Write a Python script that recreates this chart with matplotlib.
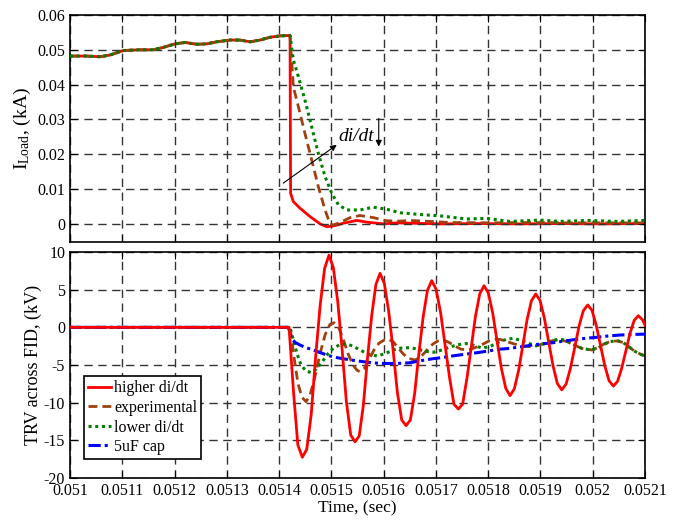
import numpy as np
import matplotlib
matplotlib.use("Agg")
import matplotlib.pyplot as plt

plt.rcParams['font.family'] = ['Liberation Serif', 'DejaVu Serif']
plt.rcParams['mathtext.fontset'] = 'custom'
plt.rcParams['mathtext.rm'] = 'Liberation Serif'
plt.rcParams['mathtext.it'] = 'Liberation Serif:italic'
plt.rcParams['axes.unicode_minus'] = False

# ---- top panel: load current (kA) ----
# common part before the interruption
t_pre = [0.0510000, 0.0510320, 0.0510574, 0.0510765, 0.0511020, 0.0511340, 0.0511594,
         0.0511785, 0.0512009, 0.0512200, 0.0512424, 0.0512615, 0.0512807, 0.0513061,
         0.0513252, 0.0513444, 0.0513635, 0.0513826, 0.0514018, 0.0514196]
i_pre = [0.0482, 0.0482, 0.0480, 0.0485, 0.0498, 0.0500, 0.0500,
         0.0507, 0.0517, 0.0521, 0.0516, 0.0517, 0.0523, 0.0528,
         0.0528, 0.0523, 0.0528, 0.0536, 0.0540, 0.0541]

t_i_high = [0.0514209, 0.0514220, 0.0514272, 0.0514400, 0.0514592, 0.0514783, 0.0514911,
            0.0515037, 0.0515229, 0.0515485, 0.0515676, 0.0515994, 0.0516250, 0.0516505,
            0.0517079, 0.0517844, 0.0518609, 0.0519375, 0.0520140, 0.0521000]
i_high = [0.0541, 0.0088, 0.0064, 0.0045, 0.0021, 0.0000, -0.0008,
          -0.0006, 0.0002, 0.0010, 0.0005, 0.0000, 0.0003, 0.0002,
          0.0000, 0.0001, 0.0000, 0.0001, 0.0000, 0.0001]

t_i_exp = [0.0514209, 0.0514272, 0.0514368, 0.0514494, 0.0514623, 0.0514750, 0.0514879,
           0.0514974, 0.0515037, 0.0515166, 0.0515358, 0.0515548, 0.0515803, 0.0516059,
           0.0516314, 0.0516505, 0.0516888, 0.0517270, 0.0518035, 0.0518801, 0.0519566,
           0.0520331, 0.0521000]
i_exp = [0.0541, 0.0394, 0.0337, 0.0260, 0.0184, 0.0107, 0.0040,
         0.0000, -0.0003, 0.0004, 0.0018, 0.0024, 0.0018, 0.0009,
         0.0008, 0.0010, 0.0007, 0.0004, 0.0003, 0.0004, 0.0003,
         0.0003, 0.0003]

t_i_low = [0.0514209, 0.0514272, 0.0514368, 0.0514494, 0.0514623, 0.0514749, 0.0514879,
           0.0515007, 0.0515133, 0.0515294, 0.0515548, 0.0515803, 0.0516059, 0.0516314,
           0.0516696, 0.0517079, 0.0517590, 0.0517973, 0.0518418, 0.0518992, 0.0519375,
           0.0519885, 0.0520460, 0.0521000]
i_low = [0.0541, 0.0471, 0.0423, 0.0356, 0.0279, 0.0203, 0.0136,
         0.0088, 0.0055, 0.0040, 0.0040, 0.0048, 0.0042, 0.0032,
         0.0027, 0.0023, 0.0014, 0.0016, 0.0007, 0.0011, 0.0007,
         0.0010, 0.0007, 0.0010]

# ---- bottom panel: TRV across FID (kV) ----
t_v_high = [0.0510000, 0.0514190, 0.0514276, 0.0514358, 0.0514444, 0.0514529, 0.0514615,
            0.0514700, 0.0514785, 0.0514870, 0.0514955, 0.0515037, 0.0515122, 0.0515204,
            0.0515286, 0.0515370, 0.0515453, 0.0515533, 0.0515611, 0.0515692, 0.0515772,
            0.0515851, 0.0515931, 0.0516013, 0.0516097, 0.0516180, 0.0516262, 0.0516346,
            0.0516428, 0.0516511, 0.0516593, 0.0516675, 0.0516756, 0.0516838, 0.0516920,
            0.0517004, 0.0517090, 0.0517175, 0.0517259, 0.0517345, 0.0517429, 0.0517511,
            0.0517594, 0.0517676, 0.0517756, 0.0517838, 0.0517921, 0.0518003, 0.0518087,
            0.0518169, 0.0518252, 0.0518336, 0.0518418, 0.0518500, 0.0518583, 0.0518665,
            0.0518745, 0.0518828, 0.0518910, 0.0518992, 0.0519074, 0.0519158, 0.0519241,
            0.0519323, 0.0519407, 0.0519490, 0.0519572, 0.0519656, 0.0519738, 0.0519820,
            0.0519905, 0.0519987, 0.0520067, 0.0520150, 0.0520232, 0.0520312, 0.0520395,
            0.0520475, 0.0520553, 0.0520634, 0.0520714, 0.0520793, 0.0520873, 0.0520953,
            0.0521000]
v_high = [0.0, 0.0, -8.6, -15.6, -17.25, -16.2, -11.5,
          -3.83, 2.89, 7.80, 9.6, 7.94, 3.4, -2.8,
          -9.8, -14.3, -15.2, -14.4, -10.4, -4.02, 1.58,
          5.67, 7.17, 5.82, 2.12, -2.94, -8.6, -12.3,
          -13.05, -12.3, -8.8, -3.43, 1.39, 4.91, 6.2,
          5.06, 1.94, -2.32, -6.58, -10.2, -10.84, -10.2,
          -6.75, -2.66, 1.44, 4.43, 5.53, 4.55, 1.88,
          -1.77, -5.42, -8.09, -9.07, -8.17, -5.70, -2.32,
          1.06, 3.53, 4.43, 3.58, 1.25, -1.94, -5.12,
          -7.45, -8.3, -7.55, -5.48, -2.67, 0.15, 2.21,
          2.97, 2.25, 0.28, -2.42, -5.11, -7.08, -7.8,
          -7.17, -5.46, -3.13, -0.79, 0.92, 1.55, 1.0,
          0.3]

t_v_exp = [0.0510000, 0.0514209, 0.0514286, 0.0514362, 0.0514439, 0.0514515, 0.0514592,
           0.0514687, 0.0514783, 0.0514879, 0.0514974, 0.0515051, 0.0515127, 0.0515223,
           0.0515319, 0.0515414, 0.0515491, 0.0515548, 0.0515625, 0.0515720, 0.0515816,
           0.0515912, 0.0516007, 0.0516090, 0.0516180, 0.0516275, 0.0516371, 0.0516467,
           0.0516601, 0.0516715, 0.0516830, 0.0516945, 0.0517041, 0.0517142, 0.0517251,
           0.0517366, 0.0517481, 0.0517620, 0.0517748, 0.0517882, 0.0518016, 0.0518131,
           0.0518227, 0.0518361, 0.0518495, 0.0518629, 0.0518801, 0.0518954, 0.0519107,
           0.0519241, 0.0519375, 0.0519509, 0.0519643, 0.0519796, 0.0519981, 0.0520102,
           0.0520217, 0.0520331, 0.0520460, 0.0520580, 0.0520695, 0.0520810, 0.0520925,
           0.0521000]
v_exp = [0.0, 0.0, -4.0, -7.5, -9.3, -9.87, -9.0,
         -6.5, -3.5, -1.0, 0.4, 0.61, 0.2, -1.5,
         -3.5, -5.0, -5.7, -5.89, -5.5, -4.3, -3.0,
         -2.1, -1.7, -1.59, -1.9, -2.7, -3.5, -4.1,
         -4.34, -3.9, -3.0, -2.2, -1.8, -1.68, -2.0,
         -2.5, -2.9, -3.0, -2.7, -2.3, -1.8, -1.62,
         -1.59, -1.9, -2.2, -2.45, -2.57, -2.4, -2.0,
         -1.75, -1.65, -1.9, -2.35, -2.8, -3.0, -2.7,
         -2.2, -1.9, -1.8, -2.0, -2.6, -3.2, -3.6,
         -3.8]

t_v_low = [0.0510000, 0.0514209, 0.0514266, 0.0514343, 0.0514419, 0.0514515, 0.0514610,
           0.0514706, 0.0514821, 0.0514936, 0.0515051, 0.0515166, 0.0515294, 0.0515414,
           0.0515548, 0.0515682, 0.0515873, 0.0516026, 0.0516180, 0.0516333, 0.0516505,
           0.0516658, 0.0516811, 0.0516964, 0.0517117, 0.0517270, 0.0517423, 0.0517576,
           0.0517729, 0.0517882, 0.0518035, 0.0518188, 0.0518342, 0.0518475, 0.0518609,
           0.0518762, 0.0518915, 0.0519069, 0.0519222, 0.0519375, 0.0519509, 0.0519643,
           0.0519796, 0.0519967, 0.0520102, 0.0520217, 0.0520331, 0.0520466, 0.0520580,
           0.0520695, 0.0520810, 0.0520925, 0.0521000]
v_low = [0.0, 0.0, -1.5, -3.5, -5.0, -5.8, -6.0,
         -5.6, -4.6, -3.5, -2.7, -2.3, -2.2, -2.5,
         -3.0, -3.5, -3.8, -3.5, -3.0, -2.75, -2.7,
         -2.9, -3.2, -3.3, -3.0, -2.6, -2.3, -2.15,
         -2.4, -2.75, -2.55, -2.0, -1.6, -1.46, -1.7,
         -2.1, -2.45, -2.2, -1.75, -1.55, -1.8, -2.3,
         -2.8, -3.0, -2.75, -2.25, -1.9, -1.75, -2.0,
         -2.6, -3.2, -3.6, -3.8]

t_v_cap = [0.0510000, 0.0514176, 0.0514242, 0.0514305, 0.0514400, 0.0514515, 0.0514655,
           0.0514802, 0.0514974, 0.0515127, 0.0515294, 0.0515453, 0.0515611, 0.0515778,
           0.0515931, 0.0516122, 0.0516314, 0.0516505, 0.0516696, 0.0516907, 0.0517142,
           0.0517366, 0.0517590, 0.0517806, 0.0518035, 0.0518227, 0.0518418, 0.0518609,
           0.0518801, 0.0519011, 0.0519247, 0.0519470, 0.0519694, 0.0519872, 0.0520077,
           0.0520293, 0.0520523, 0.0520752, 0.0521000]
v_cap = [0.0, 0.0, -1.46, -2.0, -2.35, -2.7, -3.0,
         -3.4, -3.8, -4.05, -4.24, -4.42, -4.56, -4.7,
         -4.78, -4.8, -4.78, -4.7, -4.45, -4.2, -3.98,
         -3.75, -3.54, -3.35, -3.1, -2.9, -2.79, -2.6,
         -2.4, -2.2, -2.04, -1.8, -1.59, -1.45, -1.32,
         -1.15, -1.02, -0.95, -0.9]

x_ticks = [0.051, 0.0511, 0.0512, 0.0513, 0.0514, 0.0515, 0.0516,
           0.0517, 0.0518, 0.0519, 0.052, 0.0521]
x_ticklabels = ['0.051', '0.0511', '0.0512', '0.0513', '0.0514', '0.0515', '0.0516',
                '0.0517', '0.0518', '0.0519', '0.052', '0.0521']
top_yticks = [0, 0.01, 0.02, 0.03, 0.04, 0.05, 0.06]
top_yticklabels = ['0', '0.01', '0.02', '0.03', '0.04', '0.05', '0.06']
bot_yticks = [-20, -15, -10, -5, 0, 5, 10]

RED = '#ff0000'
BROWN = '#a0400f'
GREEN = '#008000'
BLUE = '#0000ff'

fig = plt.figure(figsize=(6.8, 5.22), dpi=100)
ax1 = fig.add_axes([0.103, 0.5364, 0.8455, 0.4349])
ax2 = fig.add_axes([0.103, 0.0843, 0.8455, 0.4329])

grid_kw = dict(color='0.2', linestyle=(0, (6, 4)), linewidth=1.0)

# top
ax1.plot(t_pre + t_i_low, i_pre + i_low, color=GREEN, linestyle=(0, (1, 1.2)), lw=2.2, zorder=3)
ax1.plot(t_pre + t_i_exp, i_pre + i_exp, color=BROWN, linestyle=(0, (3.2, 1.8)), lw=2.0, zorder=2)
ax1.plot(t_pre + t_i_high, i_pre + i_high, color=RED, lw=2.0, zorder=1)
ax1.set_xlim(0.051, 0.0521)
ax1.set_ylim(-0.0052, 0.06)
ax1.set_xticks(x_ticks)
ax1.set_xticklabels([])
ax1.set_yticks(top_yticks)
ax1.set_yticklabels(top_yticklabels)
ax1.grid(True, **grid_kw)
ax1.set_ylabel(r'I$_{\mathrm{Load}}$, (kA)', fontsize=14, labelpad=3)

ax1.annotate('', xy=(0.0515103, 0.0227), xytext=(0.0514079, 0.0117),
             arrowprops=dict(arrowstyle='-|>', color='black', lw=0.8,
                             mutation_scale=9, shrinkA=0, shrinkB=0))
ax1.text(0.0515133, 0.0251, 'di/dt', fontsize=14, style='italic', va='center', ha='left')
ax1.annotate('', xy=(0.0515906, 0.0222), xytext=(0.0515906, 0.0303),
             arrowprops=dict(arrowstyle='-|>', color='black', lw=0.8,
                             mutation_scale=9, shrinkA=0, shrinkB=0))

# bottom
ax2.plot(t_v_high, v_high, color=RED, lw=2.0, label='higher di/dt', zorder=4)
ax2.plot(t_v_exp, v_exp, color=BROWN, linestyle=(0, (3.2, 1.8)), lw=2.0, label='experimental', zorder=2)
ax2.plot(t_v_low, v_low, color=GREEN, linestyle=(0, (1, 1.2)), lw=2.2, label='lower di/dt', zorder=3)
ax2.plot(t_v_cap, v_cap, color=BLUE, linestyle=(0, (4, 1.3, 1, 1.3)), lw=2.2, label='5uF cap', zorder=3)
ax2.set_xlim(0.051, 0.0521)
ax2.set_ylim(-20, 10)
ax2.set_xticks(x_ticks)
ax2.set_xticklabels(x_ticklabels)
ax2.set_yticks(bot_yticks)
ax2.grid(True, **grid_kw)
ax2.set_ylabel('TRV across FID, (kV)', fontsize=13, labelpad=1)
ax2.set_xlabel('Time, (sec)', fontsize=12.5, labelpad=1)

leg = ax2.legend(loc='lower left', bbox_to_anchor=(0.024, 0.084), borderaxespad=0,
                 fontsize=11.5, handlelength=1.45, handletextpad=0.2, labelspacing=0.22,
                 borderpad=0.25, fancybox=False, framealpha=1, edgecolor='black')
leg.get_frame().set_linewidth(1.2)

for ax in (ax1, ax2):
    ax.tick_params(direction='in', top=True, right=True, length=5, width=0.8, labelsize=11.5)
    for s in ax.spines.values():
        s.set_linewidth(1.2)

fig.savefig('out.png', dpi=100)
